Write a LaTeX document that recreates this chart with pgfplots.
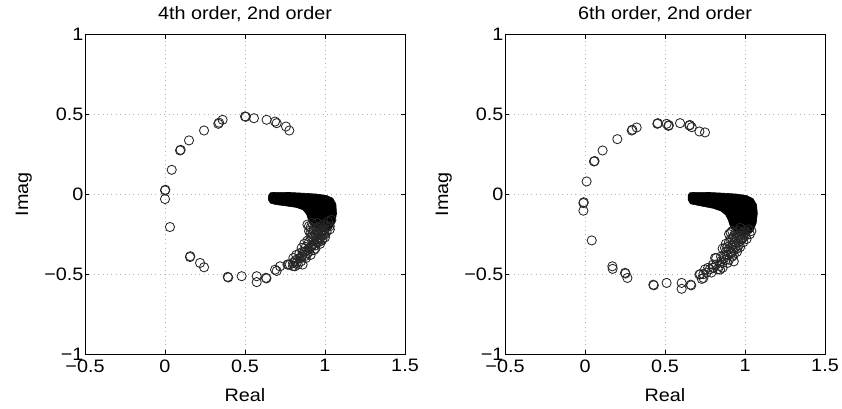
\documentclass[border=0pt]{standalone}
\usepackage{fontspec}
\setmainfont{Liberation Sans}[FakeStretch=1.1]
\usepackage{pgfplots}
\pgfplotsset{compat=1.18}
\newcommand{\ff}{\fontsize{18}{21}\selectfont}
\pgfplotsset{
  rootstyle/.style={
    scale only axis, width=320pt, height=319.5pt,
    xmin=-0.5, xmax=1.5, ymin=-1, ymax=1,
    xtick={-0.5,0,0.5,1,1.5}, ytick={-1,-0.5,0,0.5,1},
    xticklabels={−0.5,0,0.5,1,1.5}, yticklabels={−1,−0.5,0,0.5,1},
    tick align=inside, xtick pos=both, ytick pos=both,
    major tick length=4pt,
    tick style={black, line width=0.7pt},
    axis line style={black, line width=0.9pt},
    grid=major,
    major grid style={gray!60, line width=0.6pt, dash pattern=on 0.8pt off 3.6pt},
    tick label style={font=\ff},
    xticklabel style={yshift=-2pt},
    yticklabel style={xshift=2pt},
    label style={font=\ff},
    title style={font=\ff, at={(0.5,1)}, anchor=south, yshift=3pt},
    xlabel={Real}, ylabel={Imag},
    xlabel style={at={(axis description cs:0.5,-0.15)}, anchor=base},
    ylabel style={at={(axis description cs:-0.178,0.5)}, anchor=base},
  },
  circ/.style={only marks, mark=o, mark size=4.6pt, mark options={line width=0.85pt, draw=black!85}},
  blob/.style={fill=black, draw=black, line width=0.6pt},
}
\begin{document}
\begin{tikzpicture}
\useasboundingbox (0,0) rectangle (842pt,408pt);
% ---------------- left ----------------
\begin{axis}[rootstyle, at={(85pt,54pt)}, anchor=south west, title={4th order, 2nd order}]
\addplot[blob] coordinates {
(0.648,-0.005) (0.660,0.010) (0.700,0.012) (0.780,0.011) (0.860,0.007) (0.950,0.001)
(1.010,-0.008) (1.048,-0.025) (1.068,-0.060) (1.072,-0.120) (1.062,-0.175)
(1.040,-0.215) (1.000,-0.235) (0.960,-0.225) (0.925,-0.205) (0.900,-0.170)
(0.885,-0.125) (0.862,-0.097) (0.820,-0.082) (0.750,-0.072) (0.690,-0.064)
(0.658,-0.055) (0.646,-0.035)} -- cycle;
\addplot[circ] coordinates {
(0.500,0.487) (0.505,0.485) (0.556,0.476) (0.635,0.466) (0.688,0.455) (0.698,0.445)
(0.756,0.424) (0.777,0.399) (0.360,0.466) (0.333,0.441) (0.338,0.448) (0.244,0.399)
(0.150,0.337) (0.094,0.274) (0.098,0.278) (0.042,0.153) (0.000,0.024) (0.002,0.028)
(0.000,-0.030) (0.031,-0.205) (0.156,-0.393) (0.158,-0.388) (0.219,-0.430)
(0.244,-0.457) (0.392,-0.517) (0.395,-0.521) (0.479,-0.513) (0.573,-0.513)
(0.573,-0.550) (0.631,-0.523) (0.634,-0.527) (0.688,-0.472) (0.698,-0.480) (0.719,-0.451)
(0.765,-0.440) (0.771,-0.440) (0.812,-0.451) (0.802,-0.399) (0.823,-0.430)
(0.854,-0.389) (0.854,-0.336) (0.875,-0.357) (0.917,-0.326) (0.969,-0.280)
(0.780,-0.440) (0.800,-0.450) (0.810,-0.420) (0.830,-0.440) (0.840,-0.400)
(0.850,-0.420) (0.860,-0.380) (0.870,-0.360) (0.880,-0.400) (0.880,-0.330)
(0.890,-0.370) (0.900,-0.340) (0.900,-0.300) (0.910,-0.380) (0.920,-0.320)
(0.920,-0.270) (0.930,-0.350) (0.930,-0.290) (0.940,-0.250) (0.940,-0.320)
(0.950,-0.280) (0.950,-0.220) (0.960,-0.300) (0.960,-0.250) (0.970,-0.270)
(0.970,-0.200) (0.980,-0.230) (0.980,-0.290) (0.990,-0.250) (0.990,-0.190)
(1.000,-0.220) (1.000,-0.270) (1.010,-0.200) (1.020,-0.170) (0.930,-0.210)
(0.910,-0.240) (0.950,-0.180) (0.860,-0.440) (0.820,-0.380) (0.900,-0.200)
(0.920,-0.180) (1.030,-0.200) (1.040,-0.160) (0.990,-0.230) (0.960,-0.210)
(0.890,-0.190) (0.910,-0.210) (0.930,-0.230) (0.950,-0.240) (0.970,-0.235)
(1.010,-0.235) (1.030,-0.220) (0.900,-0.230) (0.920,-0.250) (0.940,-0.270)
(0.960,-0.270) (0.980,-0.260) (1.000,-0.250) (0.910,-0.270) (0.890,-0.290)
(0.930,-0.310) (0.950,-0.300) (0.970,-0.310) (0.910,-0.330) (0.870,-0.310)
(0.890,-0.350) (0.860,-0.360) (0.880,-0.385) (0.840,-0.370) (0.900,-0.360)
(0.850,-0.400) (0.820,-0.410) (0.800,-0.430) (0.940,-0.340) (0.985,-0.280)
};
\end{axis}
% ---------------- right ----------------
\begin{axis}[rootstyle, at={(505pt,54pt)}, anchor=south west, title={6th order, 2nd order}]
\addplot[blob] coordinates {
(0.644,-0.005) (0.656,0.010) (0.700,0.012) (0.780,0.011) (0.860,0.007) (0.950,0.001)
(1.010,-0.008) (1.050,-0.028) (1.072,-0.065) (1.077,-0.120) (1.070,-0.180)
(1.050,-0.230) (1.015,-0.255) (0.975,-0.250) (0.935,-0.235) (0.910,-0.205)
(0.895,-0.160) (0.880,-0.130) (0.850,-0.105) (0.802,-0.088) (0.720,-0.072)
(0.660,-0.060) (0.644,-0.035)} -- cycle;
\addplot[circ] coordinates {
(0.452,0.441) (0.455,0.445) (0.510,0.441) (0.521,0.428) (0.524,0.432) (0.594,0.445)
(0.652,0.430) (0.655,0.434) (0.667,0.420) (0.715,0.393) (0.750,0.387)
(0.323,0.418) (0.292,0.399) (0.296,0.404) (0.202,0.345) (0.110,0.274) (0.056,0.205)
(0.060,0.208) (0.010,0.080) (-0.010,-0.055) (-0.008,-0.050) (-0.010,-0.103)
(0.042,-0.289) (0.171,-0.451) (0.173,-0.467) (0.250,-0.492) (0.253,-0.496)
(0.265,-0.524) (0.427,-0.566) (0.430,-0.570) (0.510,-0.555) (0.604,-0.555)
(0.604,-0.592) (0.660,-0.566) (0.664,-0.570) (0.715,-0.503) (0.740,-0.524)
(0.802,-0.461) (0.844,-0.472) (0.813,-0.399) (0.875,-0.336) (0.917,-0.367)
(0.979,-0.284) (1.020,-0.220) (1.000,-0.260) (0.980,-0.240) (0.990,-0.300)
(0.970,-0.280) (0.960,-0.320) (0.950,-0.260) (0.940,-0.300) (0.930,-0.350)
(0.920,-0.320) (0.910,-0.280) (0.950,-0.360) (0.900,-0.340) (0.890,-0.380)
(0.880,-0.360) (0.920,-0.390) (0.870,-0.400) (0.860,-0.340) (0.850,-0.420)
(0.900,-0.410) (0.840,-0.450) (0.820,-0.400) (0.830,-0.470) (0.800,-0.460)
(0.780,-0.470) (0.760,-0.490) (0.740,-0.500) (0.720,-0.500) (0.730,-0.530)
(0.970,-0.210) (0.940,-0.240) (1.010,-0.280) (0.880,-0.310) (0.930,-0.420)
(0.920,-0.230) (0.960,-0.230) (1.040,-0.230) (1.000,-0.230) (0.990,-0.270)
(0.900,-0.250) (0.930,-0.270)
(0.910,-0.240) (0.930,-0.260) (0.950,-0.280) (0.970,-0.260) (1.000,-0.240)
(1.030,-0.250) (0.920,-0.280) (0.940,-0.330) (0.960,-0.300) (0.980,-0.280)
(0.900,-0.300) (0.890,-0.330) (0.910,-0.360) (0.930,-0.380) (0.870,-0.380)
(0.880,-0.410) (0.860,-0.430) (0.850,-0.390) (0.820,-0.440) (0.800,-0.440)
(0.790,-0.490) (0.770,-0.460) (0.750,-0.470) (0.950,-0.340) (0.970,-0.330)
(0.890,-0.430) (0.860,-0.460)
};
\end{axis}
\end{tikzpicture}
\end{document}
